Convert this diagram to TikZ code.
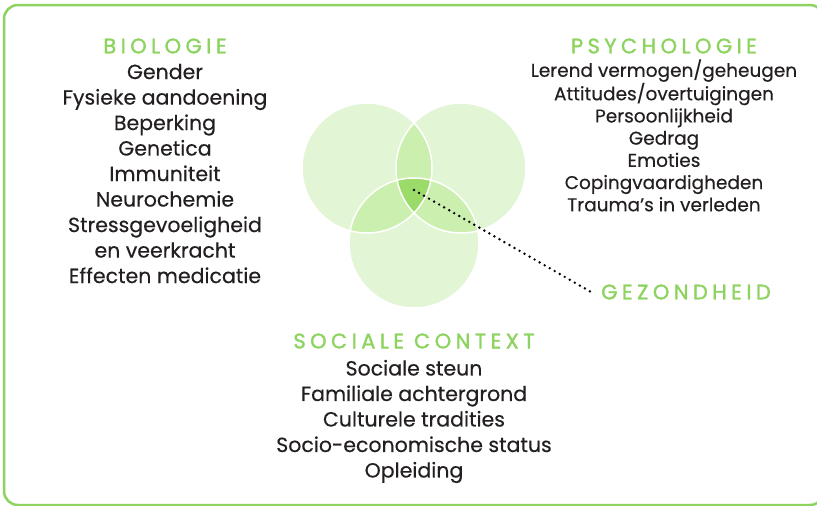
\documentclass[tikz,border=0pt]{standalone}
\usepackage{fontspec}
\setmainfont{Poppins}
\usepackage{tikz}
\usetikzlibrary{positioning}
\definecolor{kopgroen}{HTML}{8DD35F}
\definecolor{licht}{HTML}{E2F5D5}
\definecolor{middel}{HTML}{CBEFAE}
\definecolor{donker}{HTML}{9BDB6A}
\definecolor{tekst}{HTML}{231F20}

\begin{document}
\begin{tikzpicture}[x=1pt,y=-1pt,
    kop/.style={text=kopgroen, inner sep=0pt,
      font=\fontsize{21}{24}\selectfont\addfontfeature{LetterSpace=21,FakeBold=1.5}},
    lijst/.style={text=tekst, align=center, inner sep=0pt,
      font=\fontsize{20.5}{25.5}\selectfont\addfontfeature{FakeBold=0.4}},
    kleinlijst/.style={text=tekst, align=center, inner sep=0pt,
      font=\fontsize{18.5}{22.2}\selectfont\addfontfeature{FakeBold=0.4}},
    cirkel/.style={radius=65pt}]
    \useasboundingbox (0,0) rectangle (817,506);
    \draw[kopgroen, line width=2.5pt, rounded corners=14pt] (4,5) rectangle (824,505);

    % three circles
    \coordinate (bio) at (367,168);
    \coordinate (psy) at (461,168);
    \coordinate (soc) at (414,243);
    \fill[licht] (bio) circle[cirkel] (psy) circle[cirkel] (soc) circle[cirkel];
    \begin{scope}
      \clip (bio) circle[cirkel];
      \fill[middel] (psy) circle[cirkel] (soc) circle[cirkel];
    \end{scope}
    \begin{scope}
      \clip (psy) circle[cirkel];
      \fill[middel] (soc) circle[cirkel];
    \end{scope}
    \begin{scope}
      \clip (bio) circle[cirkel];
      \clip (psy) circle[cirkel];
      \fill[donker] (soc) circle[cirkel];
    \end{scope}
    \draw[white, line width=1.5pt] (bio) circle[cirkel] (psy) circle[cirkel] (soc) circle[cirkel];
    \coordinate (midden) at (414,190);

    % labels
    \node[kop] (biologie) at (165,46) {BIOLOGIE};
    \node[lijst, below=10pt of biologie] (biolijst) {Gender\\Fysieke aandoening\\Beperking\\Genetica\\Immuniteit\\Neurochemie\\Stressgevoeligheid\\en veerkracht\\Effecten medicatie};
    \node[kop] (psychologie) at (664,46) {PSYCHOLOGIE};
    \node[kleinlijst, below=5.5pt of psychologie] (psylijst) {Lerend vermogen/geheugen\\Attitudes/overtuigingen\\Persoonlijkheid\\Gedrag\\Emoties\\Copingvaardigheden\\Trauma’s in verleden};
    \node[kop] (sociaal) at (414,341) {SOCIALE CONTEXT};
    \node[lijst, below=11pt of sociaal] (soclijst) {Sociale steun\\Familiale achtergrond\\Culturele tradities\\Socio-economische status\\Opleiding};
    \node[kop, anchor=west] (gezond) at (601,292) {GEZONDHEID};

    \draw[line width=2.7pt, line cap=round, dash pattern=on 0pt off 5.8pt] (midden) -- ([xshift=-10pt]gezond.west);
\end{tikzpicture}
\end{document}
